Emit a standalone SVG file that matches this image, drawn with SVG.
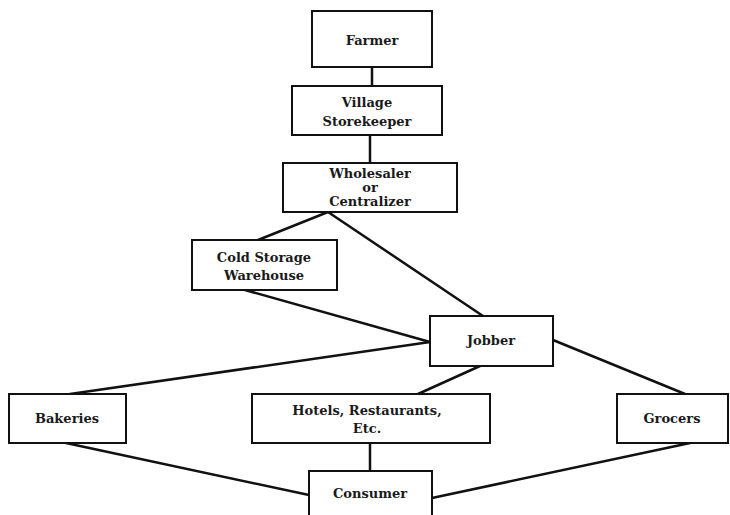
<svg xmlns="http://www.w3.org/2000/svg" width="730" height="515" viewBox="0 0 730 515">
  <style>
    .box { fill: #ffffff; stroke: #111111; stroke-width: 2; }
    .lbl { font-family: "DejaVu Serif", "Liberation Serif", serif; font-weight: bold; font-size: 13px; fill: #1a1a1a; text-anchor: middle; }
    .conn line { stroke: #111111; stroke-width: 2.5; stroke-linecap: round; }
  </style>
  <rect width="730" height="515" fill="#ffffff"/>

  <!-- connectors -->
  <g id="connectors" class="conn">
    <line x1="372" y1="67" x2="372" y2="86"/>
    <line x1="370" y1="135" x2="370" y2="163"/>
    <line x1="328" y1="212" x2="258" y2="240"/>
    <line x1="328" y1="212" x2="483" y2="316"/>
    <line x1="245" y1="290" x2="430" y2="342"/>
    <line x1="430" y1="342" x2="70" y2="394"/>
    <line x1="480" y1="366" x2="418" y2="394"/>
    <line x1="553" y1="340" x2="685" y2="394"/>
    <line x1="66" y1="443" x2="309" y2="495"/>
    <line x1="370" y1="443" x2="370" y2="471"/>
    <line x1="690" y1="443" x2="432" y2="498"/>
  </g>

  <g id="farmer">
    <rect class="box" x="312" y="11" width="120" height="56"/>
    <text class="lbl" x="372" y="45">Farmer</text>
  </g>

  <g id="village-storekeeper">
    <rect class="box" x="292" y="86" width="150" height="49"/>
    <text class="lbl" x="367" y="107">Village</text>
    <text class="lbl" x="367" y="126">Storekeeper</text>
  </g>

  <g id="wholesaler">
    <rect class="box" x="283" y="163" width="174" height="49"/>
    <text class="lbl" x="370" y="178">Wholesaler</text>
    <text class="lbl" x="370" y="192">or</text>
    <text class="lbl" x="370" y="206">Centralizer</text>
  </g>

  <g id="cold-storage">
    <rect class="box" x="192" y="240" width="145" height="50"/>
    <text class="lbl" x="264" y="262">Cold Storage</text>
    <text class="lbl" x="264" y="280">Warehouse</text>
  </g>

  <g id="jobber">
    <rect class="box" x="430" y="316" width="123" height="50"/>
    <text class="lbl" x="491" y="345">Jobber</text>
  </g>

  <g id="bakeries">
    <rect class="box" x="9" y="394" width="117" height="49"/>
    <text class="lbl" x="67" y="423">Bakeries</text>
  </g>

  <g id="hotels">
    <rect class="box" x="252" y="394" width="238" height="49"/>
    <text class="lbl" x="367" y="415">Hotels, Restaurants,</text>
    <text class="lbl" x="367" y="433">Etc.</text>
  </g>

  <g id="grocers">
    <rect class="box" x="617" y="394" width="111" height="49"/>
    <text class="lbl" x="672" y="423">Grocers</text>
  </g>

  <g id="consumer">
    <rect class="box" x="309" y="471" width="123" height="50"/>
    <text class="lbl" x="370" y="498">Consumer</text>
  </g>
</svg>
